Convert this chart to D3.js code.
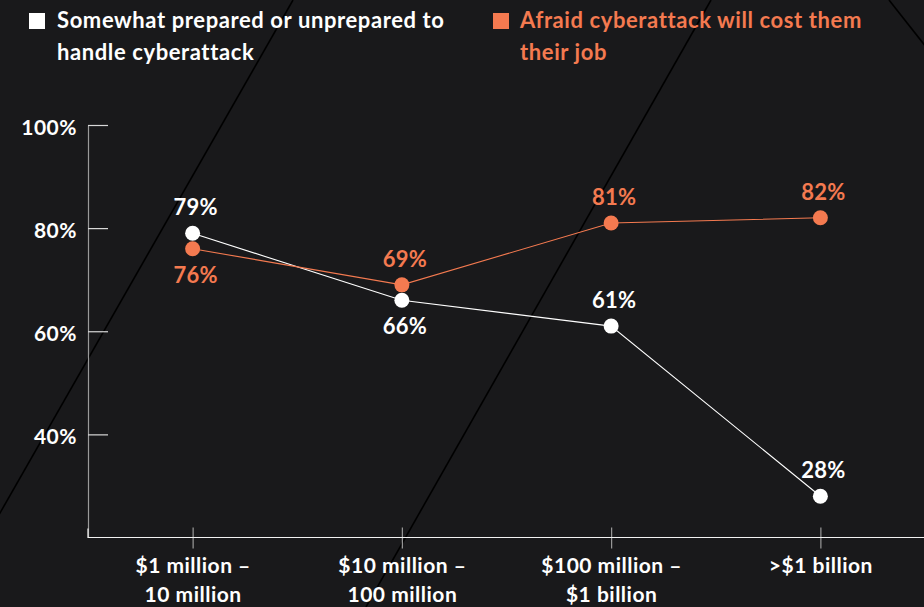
<!DOCTYPE html>
<html>
<head>
<meta charset="utf-8">
<script src="https://cdn.jsdelivr.net/npm/d3@7"></script>
<style>
  html, body { margin: 0; padding: 0; background: #19191b; }
  svg { display: block; }
  text { font-family: Lato, "Noto Sans", sans-serif; font-weight: 700; }
</style>
</head>
<body>
<svg id="chart" width="924" height="607"></svg>
<script>
// Company revenue bands
const categories = ["$1 million – 10 million", "$10 million – 100 million", "$100 million – $1 billion", ">$1 billion"];
// Share of respondents, %
const preparedValues = [79, 66, 61, 28];
const afraidValues = [76, 69, 81, 82];
const seriesNames = ["Somewhat prepared or unprepared to handle cyberattack", "Afraid cyberattack will cost them their job"];
const yTicks = [40, 60, 80, 100];

const W = 924, H = 607;
const colors = ["#ffffff", "#f47a50"];
const margin = { left: 88, right: 0, top: 125, bottom: 70 };

const svg = d3.select("#chart");

svg.append("rect").attr("width", W).attr("height", H).attr("fill", "#19191b");

// decorative diagonal strokes in the backdrop
const deco = [
  [[293, 0], [-4, 520]],
  [[711, 0], [366, 607]],
  [[889, 0], [930, 52]]
];
svg.append("g").selectAll("line").data(deco).join("line")
  .attr("x1", d => d[0][0]).attr("y1", d => d[0][1])
  .attr("x2", d => d[1][0]).attr("y2", d => d[1][1])
  .attr("stroke", "#000").attr("stroke-width", 1.6);

const x = d3.scalePoint().domain(categories).range([margin.left, W + 1]).padding(0.5);
const y = d3.scaleLinear().domain([20, 100]).range([537.5, 125]);

// y axis
const yAxis = svg.append("g").attr("transform", `translate(${margin.left},0)`)
  .call(d3.axisRight(y).tickValues(yTicks).tickSize(20).tickSizeOuter(0).tickFormat(d => d + "%"));
yAxis.select(".domain").attr("stroke", "#9a9a9a").attr("stroke-width", 1.2);
yAxis.selectAll(".tick line").attr("stroke", "#d8d8d8").attr("stroke-width", 1.2);
yAxis.selectAll(".tick text")
  .attr("x", -11).attr("dy", "0.45em")
  .attr("text-anchor", "end")
  .attr("fill", "#fff").attr("font-size", 21).attr("letter-spacing", 0.5);

// x axis
const xAxisG = svg.append("g").attr("transform", `translate(0,${y(20)})`);
xAxisG.call(d3.axisBottom(x).tickSize(0).tickSizeOuter(0).tickFormat(""));
xAxisG.select(".domain").remove();
xAxisG.append("path")
  .attr("d", `M${margin.left},-9V0H${W}`)
  .attr("fill", "none").attr("stroke", "#f2f2f2").attr("stroke-width", 1.2);
xAxisG.selectAll(".tick line").attr("y1", -10).attr("y2", 11)
  .attr("stroke", "#9a9a9a").attr("stroke-width", 1.2);
xAxisG.selectAll(".tick").each(function(d) {
  const lines = d.split(/(?<=–) /);
  const t = d3.select(this).append("text")
    .attr("text-anchor", "middle").attr("fill", "#fff")
    .attr("font-size", 21).attr("letter-spacing", 0.5);
  lines.forEach((ln, i) => t.append("tspan").attr("x", 0).attr("y", 35 + i * 29).text(ln));
});

// series lines, points and value labels
const series = [preparedValues, afraidValues];
const lineGen = d3.line().x((d, i) => x(categories[i])).y(d => y(d));

series.forEach((vals, s) => {
  svg.append("path").datum(vals)
    .attr("d", lineGen)
    .attr("fill", "none").attr("stroke", colors[s]).attr("stroke-width", 1.1);
});

series.forEach((vals, s) => {
  const other = series[1 - s];
  const g = svg.append("g");
  g.selectAll("circle").data(vals).join("circle")
    .attr("cx", (d, i) => x(categories[i])).attr("cy", d => y(d))
    .attr("r", 7.5).attr("fill", colors[s]);
  g.selectAll("text").data(vals).join("text")
    .attr("x", (d, i) => x(categories[i]) + 3)
    .attr("y", (d, i) => {
      const below = Math.abs(d - other[i]) < 10 && d < other[i];
      return y(d) + (below ? 26 : -26);
    })
    .attr("dy", "0.36em")
    .attr("text-anchor", "middle")
    .attr("fill", colors[s]).attr("font-size", 22).attr("letter-spacing", 0.3)
    .text(d => d + "%");
});

// legend
const legendPos = [[29, 57], [493, 520]];
seriesNames.forEach((name, s) => {
  const g = svg.append("g");
  g.append("rect").attr("x", legendPos[s][0]).attr("y", 13)
    .attr("width", 16).attr("height", 16).attr("fill", colors[s]);
  const words = name.split(" ");
  const first = words.slice(0, 5);
  const rest = words.slice(first.length);
  const t = g.append("text").attr("fill", colors[s])
    .attr("font-size", 22).attr("letter-spacing", 0.6);
  [first.join(" "), rest.join(" ")].forEach((ln, i) =>
    t.append("tspan").attr("x", legendPos[s][1]).attr("y", 28 + i * 32).text(ln));
});
</script>
</body>
</html>
